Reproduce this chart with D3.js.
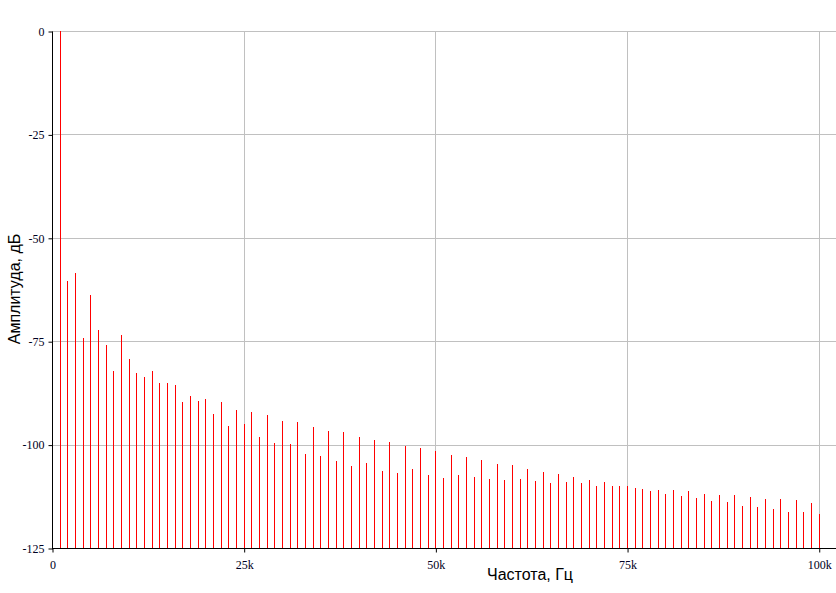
<!DOCTYPE html>
<html><head><meta charset="utf-8">
<script src="https://cdn.jsdelivr.net/npm/d3@7"></script>
<style>body{margin:0;background:#fff}svg{display:block}</style>
</head><body>
<script>
const freqsK = d3.range(1, 101); // harmonics, kHz
const amplitudes = [
  0, -60.5, -58.5, -74.3, -63.8, -72.3, -75.9, -82.2, -73.5, -79.3,
  -82.7, -83.7, -82.2, -85.1, -85.1, -85.6, -89.7, -88.3, -89.5, -89.0,
  -92.6, -89.7, -95.4, -91.7, -95.0, -92.1, -98.2, -92.9, -99.6, -94.3,
  -99.9, -94.6, -102.3, -95.8, -102.8, -96.7, -104.0, -97.0, -105.2, -98.2,
  -104.5, -98.9, -106.4, -99.4, -106.9, -100.4, -105.9, -100.8, -107.4, -101.6,
  -108.1, -102.5, -107.4, -103.0, -107.9, -103.7, -108.4, -104.7, -108.6, -105.0,
  -108.4, -105.9, -108.8, -106.6, -109.3, -107.1, -109.1, -107.9, -109.3, -108.6,
  -110.0, -109.1, -110.0, -110.0, -110.0, -110.5, -110.8, -111.2, -111.0, -112.0,
  -111.0, -112.5, -111.2, -112.9, -112.0, -113.7, -112.2, -113.9, -112.2, -114.9,
  -112.7, -115.1, -113.2, -115.6, -113.2, -116.3, -113.4, -116.3, -114.1, -116.8
];
const xTicks = [0, 25000, 50000, 75000, 100000];
const xTickLabels = ["0", "25k", "50k", "75k", "100k"];
const yTicks = [0, -25, -50, -75, -100, -125];
const xTitle = "Частота, Гц";
const yTitle = "Амплитуда, дБ";

const W = 836, H = 593;
const svg = d3.select("body").append("svg").attr("width", W).attr("height", H);

const x = d3.scaleLinear().domain([0, 102250]).range([52, 836]);
const y = d3.scaleLinear().domain([-125, 0]).range([548, 31]);
const px = v => Math.round(v) + 0.5;

// grid
const g = svg.append("g");
g.selectAll("line.hg").data(yTicks.filter(d => d !== -125)).join("line")
  .attr("x1", 52).attr("x2", W).attr("y1", d => px(y(d))).attr("y2", d => px(y(d)))
  .attr("stroke", "#c0c0c0").attr("stroke-width", 1);
g.selectAll("line.vg").data(xTicks.filter(d => d !== 0)).join("line")
  .attr("y1", 31).attr("y2", 548).attr("x1", d => px(x(d))).attr("x2", d => px(x(d)))
  .attr("stroke", "#c0c0c0").attr("stroke-width", 1);

// spectral lines
svg.append("g").selectAll("line").data(freqsK.map((f, i) => ({f: f * 1000, a: amplitudes[i]}))).join("line")
  .attr("x1", d => px(x(d.f))).attr("x2", d => px(x(d.f)))
  .attr("y1", px(y(-125))).attr("y2", d => Math.round(y(d.a)))
  .attr("stroke", "#ff0000").attr("stroke-width", 1);

// axes
const xAxis = d3.axisBottom(x).tickValues(xTicks).tickFormat((d, i) => xTickLabels[i]).tickSize(4).tickSizeOuter(0);
const yAxis = d3.axisLeft(y).tickValues(yTicks).tickFormat(d => String(d)).tickSize(4).tickSizeOuter(0);

const xa = svg.append("g").attr("transform", `translate(0.5,${px(y(-125))})`).call(xAxis);
xa.select(".domain").attr("d", `M${x(0)},0H${W}`);
const ya = svg.append("g").attr("transform", `translate(${px(x(0))},0.5)`).call(yAxis);
ya.select(".domain").attr("d", `M0,${y(0)}V${y(-125) + 1}`);

[xa, ya].forEach(a => {
  a.selectAll(".domain").attr("stroke", "#000").attr("stroke-width", 1);
  a.selectAll(".tick line").attr("stroke", "#000");
  a.selectAll(".tick text").attr("font-family", "'Liberation Serif', 'Times New Roman', serif")
    .attr("font-size", 12).attr("fill", "#000022");
});
xa.selectAll(".tick text").attr("dy", "1.1em");
ya.selectAll(".tick text").attr("x", -8);

svg.append("text").attr("x", 530).attr("y", 580).attr("text-anchor", "middle")
  .attr("font-family", "'Liberation Sans', Arial, sans-serif").attr("font-size", 16).attr("fill", "#000")
  .text(xTitle);
svg.append("text").attr("transform", "translate(20,289) rotate(-90)").attr("text-anchor", "middle")
  .attr("font-family", "'Liberation Sans', Arial, sans-serif").attr("font-size", 16).attr("fill", "#000")
  .text(yTitle);
</script>
</body></html>
